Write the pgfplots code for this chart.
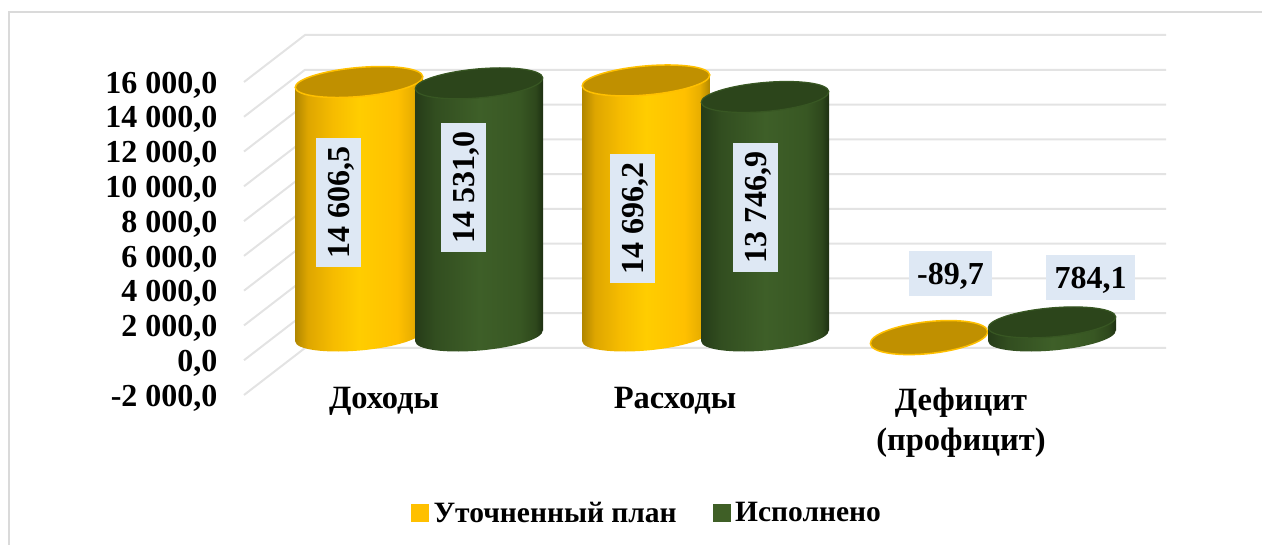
\documentclass[border=0pt]{standalone}
\usepackage{fontspec}
\setmainfont{Liberation Serif}
\usepackage{pgfplots}
\pgfplotsset{compat=1.18}

\definecolor{gridc}{HTML}{E3E3E3}
\definecolor{framec}{HTML}{DADADA}
\definecolor{gold}{HTML}{FFC000}
\definecolor{goldtop}{HTML}{C09000}
\definecolor{greenc}{HTML}{3F5F26}
\definecolor{greentop}{HTML}{2C451B}
\definecolor{greenrim}{HTML}{385723}
\definecolor{labelbg}{HTML}{DEE8F4}

% visible part of a shading is 25bp..75bp
\pgfdeclarehorizontalshading{goldcyl}{100bp}{
  color(0bp)=(rgb,255:red,176;green,134;blue,0);
  color(25bp)=(rgb,255:red,176;green,134;blue,0);
  color(30bp)=(rgb,255:red,222;green,166;blue,0);
  color(40bp)=(rgb,255:red,246;green,188;blue,0);
  color(50bp)=(rgb,255:red,255;green,205;blue,0);
  color(65bp)=(rgb,255:red,255;green,192;blue,0);
  color(71bp)=(rgb,255:red,232;green,174;blue,0);
  color(75bp)=(rgb,255:red,176;green,134;blue,0);
  color(100bp)=(rgb,255:red,176;green,134;blue,0)}
\pgfdeclarehorizontalshading{greencyl}{100bp}{
  color(0bp)=(rgb,255:red,38;green,60;blue,24);
  color(25bp)=(rgb,255:red,38;green,60;blue,24);
  color(33bp)=(rgb,255:red,50;green,78;blue,32);
  color(50bp)=(rgb,255:red,62;green,95;blue,40);
  color(66bp)=(rgb,255:red,56;green,87;blue,35);
  color(72bp)=(rgb,255:red,46;green,72;blue,28);
  color(75bp)=(rgb,255:red,30;green,48;blue,18);
  color(100bp)=(rgb,255:red,30;green,48;blue,18)}

\pgfdeclareplotmark{captop}{%
  \pgfpathellipse{\pgfpointorigin}{\pgfpointpolar{5}{64pt}}{\pgfpointpolar{95}{14.5pt}}%
  \pgfusepathqfillstroke}
\pgfdeclareplotmark{goldbase}{%
  \pgfpathellipse{\pgfpointorigin}{\pgfpointpolar{5}{64pt}}{\pgfpointpolar{95}{14.5pt}}%
  \pgfshadepath{goldcyl}{0}\pgfusepath{discard}}
\pgfdeclareplotmark{greenbase}{%
  \pgfpathellipse{\pgfpointorigin}{\pgfpointpolar{5}{64pt}}{\pgfpointpolar{95}{14.5pt}}%
  \pgfshadepath{greencyl}{0}\pgfusepath{discard}}

\newcommand{\bigbf}{\bfseries\fontsize{32}{34}\selectfont}

\begin{document}
\begin{tikzpicture}[x=1pt,y=1pt]
\path[use as bounding box] (0,0) rectangle (1262,545);
\draw[framec,line width=1.8pt] (9,-2) -- (9,533) -- (1264,533);

% back wall, value axis and legend. 1px = 1pt, -2000 at front y=395px
\begin{axis}[
    anchor=south west, at={(240pt,150pt)},
    width=1022pt, height=313pt, scale only axis,
    xmin=240, xmax=1262, ymin=-2000, ymax=16000,
    clip=false,
    scaled y ticks=false,
    axis line style={draw=none},
    major tick length=0pt,
    ytick={-2000,0,2000,4000,6000,8000,10000,12000,14000,16000},
    yticklabels={{-2 000,0},{0,0},{2 000,0},{4 000,0},{6 000,0},{8 000,0},{10 000,0},{12 000,0},{14 000,0},{16 000,0}},
    yticklabel style={font=\bigbf,text=black,anchor=east,xshift=-19pt,yshift=-3pt},
    xtick={384,675,961},
    xticklabels={Доходы,Расходы,{Дефицит\\(профицит)}},
    xticklabel style={font=\bfseries\fontsize{32.5}{40}\selectfont,text=black,align=center,anchor=north,yshift=11pt},
    legend style={at={(0.1673,-0.377)},anchor=west,draw=none,fill=none,
        font=\bfseries\fontsize{29.5}{31}\selectfont,legend columns=2,
        /tikz/every odd column/.append style={column sep=3pt},
        /tikz/every even column/.append style={column sep=34pt},
        inner sep=0pt},
    legend cell align=left,
]
\addlegendimage{legend image code/.code={\fill[gold] (0pt,-8pt) rectangle (17pt,9pt);}}
\addlegendentry{Уточненный план}
\addlegendimage{legend image code/.code={\fill[greenc] (0pt,-8pt) rectangle (17pt,9pt);}}
\addlegendentry{Исполнено}
\addplot[gridc,line width=2pt,forget plot] coordinates {(244,-2000) (305,703) (1166,703)};
\addplot[gridc,line width=2pt,forget plot] coordinates {(244,0) (305,2703) (1166,2703)};
\addplot[gridc,line width=2pt,forget plot] coordinates {(244,2000) (305,4703) (1166,4703)};
\addplot[gridc,line width=2pt,forget plot] coordinates {(244,4000) (305,6703) (1166,6703)};
\addplot[gridc,line width=2pt,forget plot] coordinates {(244,6000) (305,8703) (1166,8703)};
\addplot[gridc,line width=2pt,forget plot] coordinates {(244,8000) (305,10703) (1166,10703)};
\addplot[gridc,line width=2pt,forget plot] coordinates {(244,10000) (305,12703) (1166,12703)};
\addplot[gridc,line width=2pt,forget plot] coordinates {(244,12000) (305,14703) (1166,14703)};
\addplot[gridc,line width=2pt,forget plot] coordinates {(244,14000) (305,16703) (1166,16703)};
\addplot[gridc,line width=2pt,forget plot] coordinates {(244,16000) (305,18703) (1166,18703)};
\end{axis}

% cylinders: same scale, zero lifted to the mid depth of the floor (336px)
\begin{axis}[
    anchor=south west, at={(240pt,174.2pt)},
    width=1022pt, height=313pt, scale only axis,
    xmin=240, xmax=1262, ymin=-2000, ymax=16000,
    clip=false, clip mode=individual, hide axis,
]
% Доходы, план
\addplot[only marks,mark=goldbase] coordinates {(359,0)};
\addplot[shade,shading=goldcyl,draw=none] coordinates {(295,14290) (359,14606.5) (423,14923) (423,316) (359,0) (295,-316)};
\addplot[only marks,mark=captop,mark options={fill=goldtop,draw=gold,line width=1.5pt}] coordinates {(359,14606.5)};
% Доходы, исполнено
\addplot[only marks,mark=greenbase] coordinates {(479,0)};
\addplot[shade,shading=greencyl,draw=none] coordinates {(415,14215) (479,14531) (543,14847) (543,316) (479,0) (415,-316)};
\addplot[only marks,mark=captop,mark options={fill=greentop,draw=greenrim,line width=1.2pt}] coordinates {(479,14531)};
% Расходы, план
\addplot[only marks,mark=goldbase] coordinates {(646,0)};
\addplot[shade,shading=goldcyl,draw=none] coordinates {(582,14380) (646,14696.2) (710,15012) (710,316) (646,0) (582,-316)};
\addplot[only marks,mark=captop,mark options={fill=goldtop,draw=gold,line width=1.5pt}] coordinates {(646,14696.2)};
% Расходы, исполнено
\addplot[only marks,mark=greenbase] coordinates {(765,0)};
\addplot[shade,shading=greencyl,draw=none] coordinates {(701,13431) (765,13746.9) (829,14063) (829,316) (765,0) (701,-316)};
\addplot[only marks,mark=captop,mark options={fill=greentop,draw=greenrim,line width=1.2pt}] coordinates {(765,13746.9)};
% Дефицит (профицит), план
\addplot[only marks,mark=captop,mark options={fill=goldtop,draw=gold,line width=1.5pt,xscale=0.92,yscale=1.1}] coordinates {(929,-89.7)};
% Дефицит (профицит), исполнено
\addplot[only marks,mark=greenbase] coordinates {(1052,0)};
\addplot[shade,shading=greencyl,draw=none] coordinates {(988,468) (1052,784.1) (1116,1100) (1116,316) (1052,0) (988,-316)};
\addplot[only marks,mark=captop,mark options={fill=greentop,draw=greenrim,line width=1.2pt}] coordinates {(1052,784.1)};
\end{axis}

% data labels, positions in px from the top-left of the reference
\tikzset{vlab/.style={fill=labelbg,text=black,font=\bigbf,rotate=90,inner sep=0pt,
    text height=22pt,text depth=0pt,minimum width=129pt,minimum height=45pt},
  hlab/.style={fill=labelbg,text=black,font=\bigbf,inner sep=0pt,
    text height=22pt,text depth=0pt,minimum height=45pt}}
\node[vlab] at (338.5,545-202.5) {14 606,5};
\node[vlab] at (463.5,545-187.5) {14 531,0};
\node[vlab] at (632.5,545-218.5) {14 696,2};
\node[vlab] at (755.5,545-207.5) {13 746,9};
\node[hlab,minimum width=83pt] at (950.5,545-273.5) {-89,7};
\node[hlab,minimum width=89pt] at (1090.5,545-277.5) {784,1};
\end{tikzpicture}
\end{document}
